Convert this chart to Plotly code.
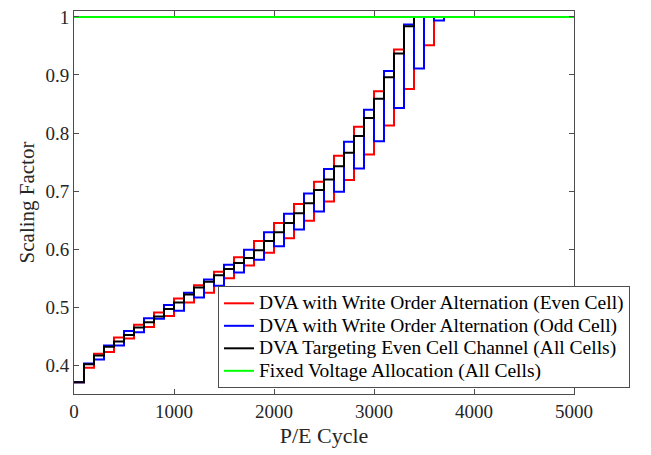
import plotly.graph_objects as go

# Step boundaries (P/E cycles) - each value holds from its cycle to the next
cycles = list(range(0, 3800, 100)) + [5000]

red_even = [0.371, 0.396, 0.420, 0.423, 0.448, 0.446, 0.470, 0.466, 0.491, 0.485,
            0.515, 0.508, 0.538, 0.525, 0.561, 0.550, 0.586, 0.572, 0.614, 0.594,
            0.645, 0.619, 0.678, 0.649, 0.716, 0.682, 0.761, 0.719, 0.811, 0.763,
            0.872, 0.813, 0.944, 0.876, 1.000, 0.951, 1.000, 1.000, 1.000]

blue_odd = [0.371, 0.403, 0.410, 0.434, 0.434, 0.459, 0.457, 0.481, 0.480, 0.504,
            0.494, 0.525, 0.517, 0.548, 0.537, 0.573, 0.560, 0.599, 0.582, 0.629,
            0.605, 0.661, 0.634, 0.696, 0.665, 0.738, 0.699, 0.785, 0.739, 0.840,
            0.786, 0.907, 0.843, 0.987, 0.911, 1.000, 0.994, 1.000, 1.000]

black_all = [0.371, 0.402, 0.417, 0.432, 0.441, 0.452, 0.465, 0.474, 0.484, 0.497,
             0.508, 0.522, 0.534, 0.544, 0.555, 0.566, 0.576, 0.585, 0.598, 0.614,
             0.629, 0.645, 0.662, 0.679, 0.702, 0.720, 0.743, 0.766, 0.795, 0.826,
             0.859, 0.896, 0.937, 0.984, 1.000, 1.000, 1.000, 1.000, 1.000]

fixed_x = [0, 5000]
fixed_y = [1.0, 1.0]

names = ["DVA with Write Order Alternation (Even Cell)",
         "DVA with Write Order Alternation (Odd Cell)",
         "DVA Targeting Even Cell Channel (All Cells)",
         "Fixed Voltage Allocation (All Cells)"]

x_ticks = [0, 1000, 2000, 3000, 4000, 5000]
y_ticks = [0.4, 0.5, 0.6, 0.7, 0.8, 0.9, 1.0]
y_tick_labels = ["0.4", "0.5", "0.6", "0.7", "0.8", "0.9", "1"]

FONT = "'Liberation Serif', 'Times New Roman', Times, serif"


def legend_label(s):
    return '<span style="font-size:19.5px">' + s + '</span>'


fig = go.Figure()
fig.add_trace(go.Scatter(x=cycles, y=red_even, mode="lines", line=dict(color="#ff0000", width=2, shape="hv"), name=legend_label(names[0])))
fig.add_trace(go.Scatter(x=cycles, y=blue_odd, mode="lines", line=dict(color="#0000ff", width=2, shape="hv"), name=legend_label(names[1])))
fig.add_trace(go.Scatter(x=cycles, y=black_all, mode="lines", line=dict(color="#000000", width=2, shape="hv"), name=legend_label(names[2])))
fig.add_trace(go.Scatter(x=fixed_x, y=fixed_y, mode="lines", line=dict(color="#00ff00", width=2), name=legend_label(names[3])))

axis_common = dict(
    showline=True, linecolor="#4d4d4d", linewidth=1, mirror="ticks",
    ticks="inside", ticklen=5, tickcolor="#4d4d4d", tickwidth=1,
    showgrid=False, zeroline=False,
    tickfont=dict(family=FONT, size=19, color="#262626"),
)

fig.update_layout(
    width=651, height=455,
    margin=dict(l=74, r=77, t=7, b=61),
    paper_bgcolor="white", plot_bgcolor="white",
    font=dict(family=FONT, color="#262626"),
    xaxis=dict(range=[0, 5000], tickvals=x_ticks, ticktext=[str(v) for v in x_ticks],
               title=dict(text="P/E Cycle", font=dict(family=FONT, size=22, color="#262626"), standoff=6),
               **axis_common),
    yaxis=dict(range=[0.3506, 1.0102], tickvals=y_ticks, ticktext=y_tick_labels,
               title=dict(text="Scaling Factor", font=dict(family=FONT, size=21, color="#262626"), standoff=5),
               **axis_common),
    legend=dict(x=0.288, y=0.0155, xanchor="left", yanchor="bottom",
                bgcolor="white", bordercolor="#4d4d4d", borderwidth=1,
                font=dict(family=FONT, size=15, color="#000000"),
                itemwidth=30, tracegroupgap=0),
    showlegend=True,
)

fig.write_html("out.html")
